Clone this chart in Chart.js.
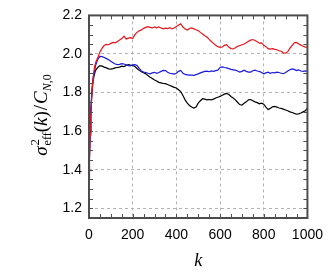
<!DOCTYPE html>
<html>
<head>
<meta charset="utf-8">
<script src="https://cdn.jsdelivr.net/npm/chart.js@4"></script>
<style>
  html, body { margin: 0; padding: 0; background: #fff; }
  #wrap { width: 332px; height: 273px; }
</style>
</head>
<body>
<div id="wrap"><canvas id="effChart" width="332" height="273"></canvas></div>
<script>
// k values (shared by all three curves)
var kValues = [0, 2, 5, 8, 12, 16, 20, 25, 30,
  40, 50, 60, 70, 80, 90, 100, 110, 120, 130, 140, 150, 160, 170, 180, 190,
  200, 210, 220, 230, 240, 250, 260, 270, 280, 290, 300, 310, 320, 330, 340,
  350, 360, 370, 380, 390, 400, 410, 420, 430, 440, 450, 460, 470, 480, 490,
  500, 510, 520, 530, 540, 550, 560, 570, 580, 590, 600, 610, 620, 630, 640,
  650, 660, 670, 680, 690, 700, 710, 720, 730, 740, 750, 760, 770, 780, 790,
  800, 810, 820, 830, 840, 850, 860, 870, 880, 890, 900, 910, 920, 930, 940,
  950, 960, 970, 980, 990, 1000];

var redValues = [1.36, 1.45, 1.58, 1.68, 1.77, 1.84, 1.89, 1.93, 1.955,
  1.98, 2.01, 2.03, 2.045, 2.05, 2.048, 2.055, 2.06, 2.058, 2.065, 2.072, 2.08, 2.092, 2.078, 2.082, 2.085,
  2.08, 2.1, 2.112, 2.12, 2.125, 2.133, 2.138, 2.142, 2.138, 2.135, 2.14, 2.136, 2.14, 2.135, 2.13,
  2.134, 2.132, 2.136, 2.13, 2.135, 2.142, 2.15, 2.156, 2.14, 2.13, 2.124, 2.132, 2.135, 2.13, 2.126,
  2.12, 2.112, 2.104, 2.095, 2.088, 2.076, 2.065, 2.055, 2.045, 2.038, 2.034, 2.036, 2.045, 2.048, 2.036,
  2.028, 2.026, 2.032, 2.04, 2.043, 2.048, 2.052, 2.058, 2.066, 2.072, 2.075, 2.07, 2.064, 2.056, 2.058,
  2.045, 2.038, 2.028, 2.025, 2.028, 2.024, 2.022, 2.017, 2.014, 2.006, 2.005, 2.012, 2.03, 2.045, 2.058,
  2.06, 2.052, 2.046, 2.04, 2.036, 2.036];

var blueValues = [1.36, 1.46, 1.6, 1.7, 1.79, 1.85, 1.88, 1.91, 1.94,
  1.972, 1.988, 1.986, 1.982, 1.976, 1.97, 1.962, 1.955, 1.948, 1.945, 1.946, 1.95, 1.948, 1.944, 1.94, 1.938,
  1.944, 1.945, 1.94, 1.925, 1.912, 1.906, 1.904, 1.9, 1.897, 1.902, 1.905, 1.9, 1.904, 1.91, 1.915,
  1.914, 1.905, 1.9, 1.898, 1.896, 1.9, 1.91, 1.915, 1.9, 1.894, 1.892, 1.89, 1.89, 1.889, 1.893,
  1.897, 1.902, 1.906, 1.91, 1.911, 1.908, 1.912, 1.91, 1.914, 1.916, 1.93, 1.933, 1.93, 1.928, 1.924,
  1.92, 1.918, 1.916, 1.912, 1.906, 1.91, 1.916, 1.91, 1.906, 1.906, 1.913, 1.916, 1.912, 1.91, 1.904,
  1.897, 1.902, 1.906, 1.9, 1.904, 1.902, 1.906, 1.904, 1.9, 1.898, 1.904, 1.912, 1.918, 1.923, 1.92,
  1.914, 1.918, 1.912, 1.91, 1.912, 1.91];

var blackValues = [1.36, 1.46, 1.59, 1.69, 1.77, 1.83, 1.87, 1.895, 1.915,
  1.93, 1.94, 1.937, 1.932, 1.928, 1.923, 1.922, 1.924, 1.928, 1.93, 1.932, 1.937, 1.935, 1.94, 1.945, 1.942,
  1.94, 1.935, 1.925, 1.915, 1.908, 1.903, 1.897, 1.888, 1.88, 1.873, 1.865, 1.86, 1.853, 1.85, 1.847,
  1.846, 1.842, 1.837, 1.832, 1.827, 1.824, 1.815, 1.805, 1.785, 1.762, 1.745, 1.733, 1.725, 1.72, 1.725,
  1.745, 1.758, 1.768, 1.766, 1.762, 1.764, 1.762, 1.766, 1.772, 1.776, 1.78, 1.786, 1.792, 1.796, 1.79,
  1.78, 1.772, 1.762, 1.75, 1.738, 1.735, 1.745, 1.752, 1.762, 1.764, 1.758, 1.752, 1.748, 1.742, 1.745,
  1.74, 1.725, 1.712, 1.718, 1.726, 1.728, 1.725, 1.72, 1.718, 1.714, 1.71, 1.706, 1.7, 1.697, 1.692,
  1.688, 1.69, 1.694, 1.7, 1.706, 1.72];

var xTicks = [0, 200, 400, 600, 800, 1000];
var yTicks = [1.2, 1.4, 1.6, 1.8, 2.0, 2.2];

function toPoints(ys) {
  var pts = [];
  for (var i = 0; i < kValues.length; i++) {
    pts.push({ x: kValues[i], y: ys[i] });
  }
  return pts;
}

// frame with inward ticks on all four sides, plus axis titles
var framePlugin = {
  id: 'frame',
  afterDatasetsDraw: function (chart) {
    var ctx = chart.ctx;
    var a = chart.chartArea;
    var xs = chart.scales.x, ys = chart.scales.y;
    ctx.save();
    ctx.strokeStyle = '#4d4d4d';
    ctx.lineWidth = 1;
    var v, p;
    for (v = 0; v <= 1000; v += 50) {
      p = Math.round(xs.getPixelForValue(v)) + 0.5;
      ctx.beginPath();
      ctx.moveTo(p, a.bottom); ctx.lineTo(p, a.bottom - 4);
      ctx.moveTo(p, a.top); ctx.lineTo(p, a.top + 4);
      ctx.stroke();
    }
    for (v = 1.15; v <= 2.2001; v += 0.05) {
      p = Math.round(ys.getPixelForValue(v)) + 0.5;
      ctx.beginPath();
      ctx.moveTo(a.left, p); ctx.lineTo(a.left + 4, p);
      ctx.moveTo(a.right, p); ctx.lineTo(a.right - 4, p);
      ctx.stroke();
    }
    ctx.lineWidth = 2;
    ctx.strokeRect(a.left, a.top, a.right - a.left, a.bottom - a.top);
    ctx.restore();

    // x title
    ctx.save();
    ctx.fillStyle = '#000';
    ctx.font = 'italic 18px "Liberation Serif"';
    ctx.textAlign = 'center';
    ctx.textBaseline = 'alphabetic';
    ctx.fillText('k', (a.left + a.right) / 2, 266);
    ctx.restore();

    // y title: sigma^2_eff(k)/C_{N,0}
    var parts = [
      { t: 'σ', f: 'italic 19px "Liberation Serif"', dy: 0 },
      { t: '2', f: '13px "Liberation Serif"', dy: -8, stack: true },
      { t: 'eff', f: '12px "Liberation Serif"', dy: 4, gap: 1 },
      { t: '(', f: '19px "Liberation Serif"', dy: 0 },
      { t: 'k', f: 'italic 19px "Liberation Serif"', dy: 0 },
      { t: ')', f: '19px "Liberation Serif"', dy: 0 },
      { t: '/', f: '19px "Liberation Serif"', dy: 0, gap: 1 },
      { t: 'C', f: 'italic 19px "Liberation Serif"', dy: 0, gap: 1 },
      { t: 'N', f: 'italic 12px "Liberation Serif"', dy: 4 },
      { t: ',0', f: '12px "Liberation Serif"', dy: 4 }
    ];
    ctx.save();
    ctx.fillStyle = '#000';
    ctx.textBaseline = 'alphabetic';
    var total = 0, i;
    for (i = 0; i < parts.length; i++) {
      ctx.font = parts[i].f;
      parts[i].w = ctx.measureText(parts[i].t).width + (parts[i].gap || 0);
      if (!parts[i].stack) total += parts[i].w;
    }
    ctx.translate(47, 115);
    ctx.rotate(-Math.PI / 2);
    var x = -total / 2;
    for (i = 0; i < parts.length; i++) {
      ctx.font = parts[i].f;
      if (parts[i].stack) {
        ctx.fillText(parts[i].t, x + 1, parts[i].dy);
        continue;
      }
      ctx.fillText(parts[i].t, x + (parts[i].gap || 0), parts[i].dy);
      x += parts[i].w;
    }
    ctx.restore();
  }
};

var ctx = document.getElementById('effChart').getContext('2d');
var chart = new Chart(ctx, {
  type: 'line',
  data: {
    datasets: [
      { data: toPoints(redValues), borderColor: '#e8141c', borderWidth: 1.2, pointRadius: 0, tension: 0 },
      { data: toPoints(blueValues), borderColor: '#1a1adc', borderWidth: 1.2, pointRadius: 0, tension: 0 },
      { data: toPoints(blackValues), borderColor: '#000000', borderWidth: 1.2, pointRadius: 0, tension: 0 }
    ]
  },
  options: {
    responsive: false,
    animation: false,
    layout: { padding: { top: 12, right: 19, left: 0, bottom: 0 } },
    plugins: { legend: { display: false }, tooltip: { enabled: false } },
    scales: {
      x: {
        type: 'linear',
        min: 0,
        max: 1000,
        afterFit: function (s) { s.height = 55; },
        afterBuildTicks: function (s) { s.ticks = xTicks.map(function (v) { return { value: v }; }); },
        grid: { color: '#b3b3b3', lineWidth: 1, drawTicks: false },
        border: { display: false, dash: [3, 3] },
        ticks: {
          color: '#000', padding: 9, maxRotation: 0, font: { family: '"Liberation Sans"', size: 14 },
          callback: function (v) { return String(v); }
        }
      },
      y: {
        type: 'linear',
        min: 1.15,
        max: 2.2,
        afterFit: function (s) { s.width = 89; },
        afterBuildTicks: function (s) { s.ticks = yTicks.map(function (v) { return { value: v }; }); },
        grid: { color: '#b3b3b3', lineWidth: 1, drawTicks: false },
        border: { display: false, dash: [3, 3] },
        ticks: {
          color: '#000', padding: 7, font: { family: '"Liberation Sans"', size: 14 },
          callback: function (v) { return v.toFixed(1); }
        }
      }
    }
  },
  plugins: [framePlugin]
});
</script>
</body>
</html>
